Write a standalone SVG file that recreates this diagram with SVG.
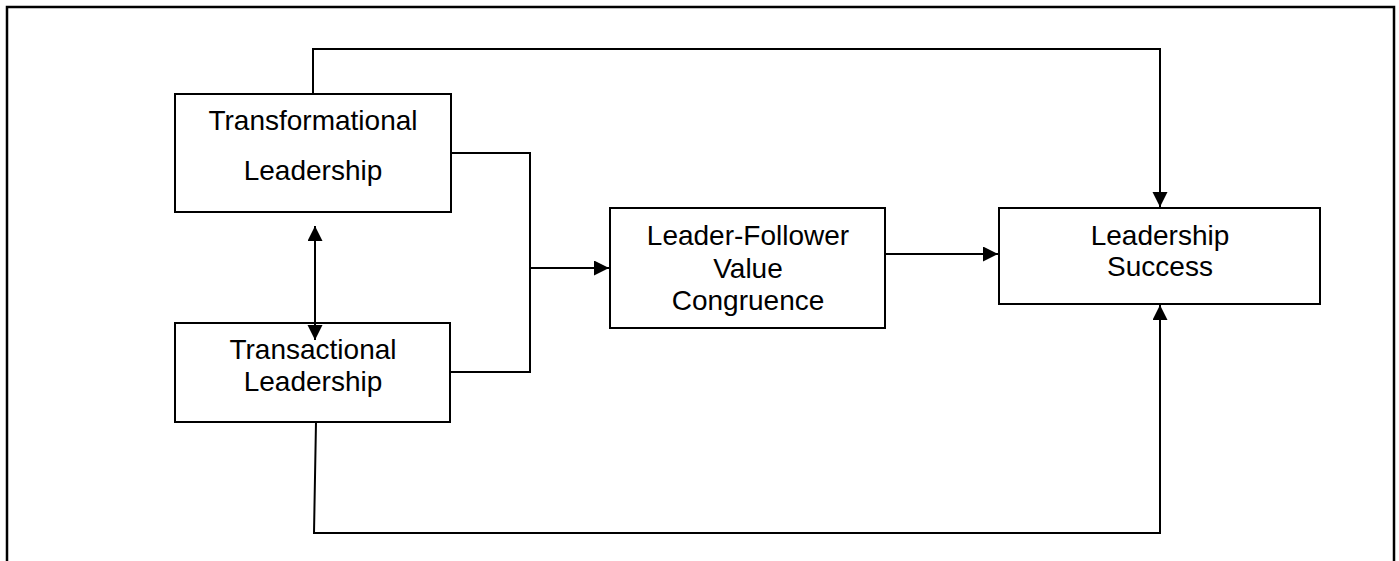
<svg xmlns="http://www.w3.org/2000/svg" width="1399" height="561" viewBox="0 0 1399 561">
<style>
.box{fill:#fff;stroke:#000;stroke-width:2}
.lbl{font-family:"Liberation Sans",Arial,sans-serif;font-size:28px;fill:#000;text-anchor:middle}
.con{fill:none;stroke:#000;stroke-width:2}
</style>
<defs>
<marker id="ah" markerUnits="userSpaceOnUse" markerWidth="16" markerHeight="16" refX="15" refY="7.5" orient="auto-start-reverse" viewBox="0 0 16 16">
<path d="M0,0 L15,7.5 L0,15 z" fill="#000"/>
</marker>
</defs>
<rect x="0" y="0" width="1399" height="561" fill="#fff"/>
<path d="M7,570 L7,7 L1394,7 L1394,570" fill="none" stroke="#000" stroke-width="2.5"/>
<g id="transformational">
<rect class="box" x="175" y="94" width="276" height="118"/>
<text class="lbl" x="313" y="130">Transformational</text>
<text class="lbl" x="313" y="180">Leadership</text>
</g>
<g id="transactional">
<rect class="box" x="175" y="323" width="275" height="99"/>
<text class="lbl" x="313" y="359">Transactional</text>
<text class="lbl" x="313" y="391">Leadership</text>
</g>
<g id="congruence">
<rect class="box" x="610" y="208" width="275" height="120"/>
<text class="lbl" x="748" y="245">Leader-Follower</text>
<text class="lbl" x="748" y="278">Value</text>
<text class="lbl" x="748" y="310">Congruence</text>
</g>
<g id="success">
<rect class="box" x="999" y="208" width="321" height="96"/>
<text class="lbl" x="1160" y="245">Leadership</text>
<text class="lbl" x="1160" y="276">Success</text>
</g>
<g id="connectors">
<path class="con" d="M313,94 L313,49 L1160,49 L1160,207" marker-end="url(#ah)"/>
<path class="con" d="M451,153 L530,153 L530,372 L450,372"/>
<path class="con" d="M530,268 L609,268" marker-end="url(#ah)"/>
<path class="con" d="M885,254 L998,254" marker-end="url(#ah)"/>
<path class="con" d="M315,226 L315,340" marker-start="url(#ah)" marker-end="url(#ah)"/>
<path class="con" d="M316,422 L314,533 L1160,533 L1160,305" marker-end="url(#ah)"/>
</g>
</svg>
